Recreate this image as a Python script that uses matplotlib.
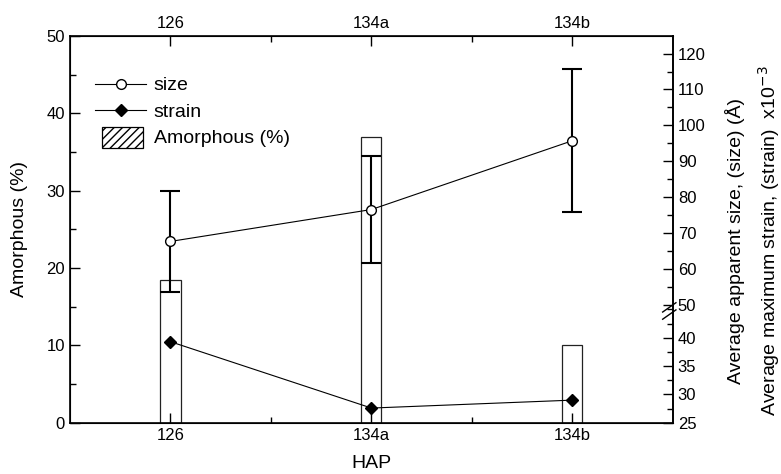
import matplotlib
matplotlib.use('agg')
import matplotlib.pyplot as plt
from matplotlib.lines import Line2D
from matplotlib.patches import Patch, Rectangle
from matplotlib.legend_handler import HandlerPatch
from matplotlib.transforms import blended_transform_factory
import numpy as np

plt.rcParams['font.family'] = ['Liberation Sans', 'DejaVu Sans']

samples = ['126', '134a', '134b']
amorphous = [18.5, 37.0, 10.0]
size = [67.6, 76.5, 95.7]
size_err = [14.0, 15.0, 20.0]
strain = [39.3, 27.6, 29.0]

x = np.arange(len(samples))

fig = plt.figure(figsize=(7.81, 4.74), dpi=100)
ax = fig.add_axes([0.0896, 0.108, 0.772, 0.816])

# amorphous bars on left axis
ax.bar(x, amorphous, width=0.1, color='white', edgecolor='#222222', linewidth=0.9, zorder=1)
ax.set_xlim(-0.5, 2.5)
ax.set_ylim(0, 50)
ax.set_yticks(np.arange(0, 51, 10))
ax.set_yticks(np.arange(5, 50, 10), minor=True)
ax.set_xticks(x)
ax.set_xticklabels(samples)
ax.set_xticks([0.5, 1.5], minor=True)
ax.tick_params(axis='both', which='both', direction='in', top=True, labeltop=True, labelsize=12)
ax.tick_params(axis='both', which='major', length=7, width=1)
ax.tick_params(axis='both', which='minor', length=4.5, width=1)
ax.tick_params(axis='y', right=False)
ax.set_ylabel('Amorphous (%)', fontsize=14)
ax.yaxis.set_label_coords(-0.07, 0.5)
ax.set_xlabel('HAP', fontsize=14, labelpad=9)
for s in ax.spines.values():
    s.set_linewidth(1.2)

# size on upper part of right axis
ax_size = ax.twinx()
ax_size.set_ylim(17.0, 124.9)
ax_size.errorbar(x, size, yerr=size_err, fmt='none', ecolor='black', elinewidth=1.5,
                 capsize=7, capthick=1.5, zorder=3)
ax_size.plot(x, size, '-', color='black', lw=0.8, marker='o', markersize=7,
             markerfacecolor='white', markeredgecolor='black', markeredgewidth=1.0, zorder=4)
ax_size.set_yticks(np.arange(50, 121, 10))
ax_size.set_yticks(np.arange(55, 120, 10), minor=True)
ax_size.tick_params(axis='y', which='both', direction='in', labelsize=12)
ax_size.tick_params(axis='y', which='major', length=7, width=1)
ax_size.tick_params(axis='y', which='minor', length=4.5, width=1)
ax_size.spines['right'].set_linewidth(1.2)
ax_size.set_ylabel('Average apparent size, (size) (\u00c5)', fontsize=14)
ax_size.yaxis.set_label_coords(1.086, 0.47)

# strain on lower part of right axis
ax_strain = ax.twinx()
ax_strain.set_ylim(25, 93.2)
ax_strain.plot(x, strain, '-', color='black', lw=0.8, marker='D', markersize=6,
               markerfacecolor='black', markeredgecolor='black', zorder=4)
ax_strain.set_yticks(np.arange(25, 41, 5))
ax_strain.set_yticks(np.arange(27.5, 46, 2.5), minor=True)
ax_strain.tick_params(axis='y', which='both', direction='in', labelsize=12)
ax_strain.tick_params(axis='y', which='major', length=7, width=1)
ax_strain.tick_params(axis='y', which='minor', length=4.5, width=1)
for s in ax_strain.spines.values():
    s.set_visible(False)
ax_strain.set_ylabel('Average maximum strain, (strain)  x10$^{-3}$', fontsize=14)
ax_strain.yaxis.set_label_coords(1.138, 0.47)

# break marks on the right spine
tr = blended_transform_factory(ax.transAxes, ax_size.transData)
for y0 in [47.2, 49.2]:
    ax.plot([0.983, 1.005], [y0 - 1.3, y0 + 1.3], color='black', lw=1.0,
            transform=tr, clip_on=False, zorder=5)


def small_box(legend, orig_handle, xdescent, ydescent, width, height, fontsize):
    return Rectangle((-xdescent + 0.14 * width, -ydescent - 0.35 * height),
                     0.8 * width, 1.5 * height)


handles = [
    Line2D([], [], color='black', lw=0.8, marker='o', markersize=7,
           markerfacecolor='white', markeredgecolor='black'),
    Line2D([], [], color='black', lw=0.8, marker='D', markersize=6, markerfacecolor='black'),
    Patch(facecolor='white', edgecolor='black', hatch='////', linewidth=0.9),
]
ax_strain.legend(handles, ['size', 'strain', 'Amorphous (%)'], loc='upper left',
                 bbox_to_anchor=(0.013, 0.94), frameon=False, fontsize=14,
                 handlelength=2.6, handletextpad=0.4, labelspacing=0.45,
                 handler_map={Patch: HandlerPatch(patch_func=small_box)})

plt.savefig('out.png', dpi=100)
